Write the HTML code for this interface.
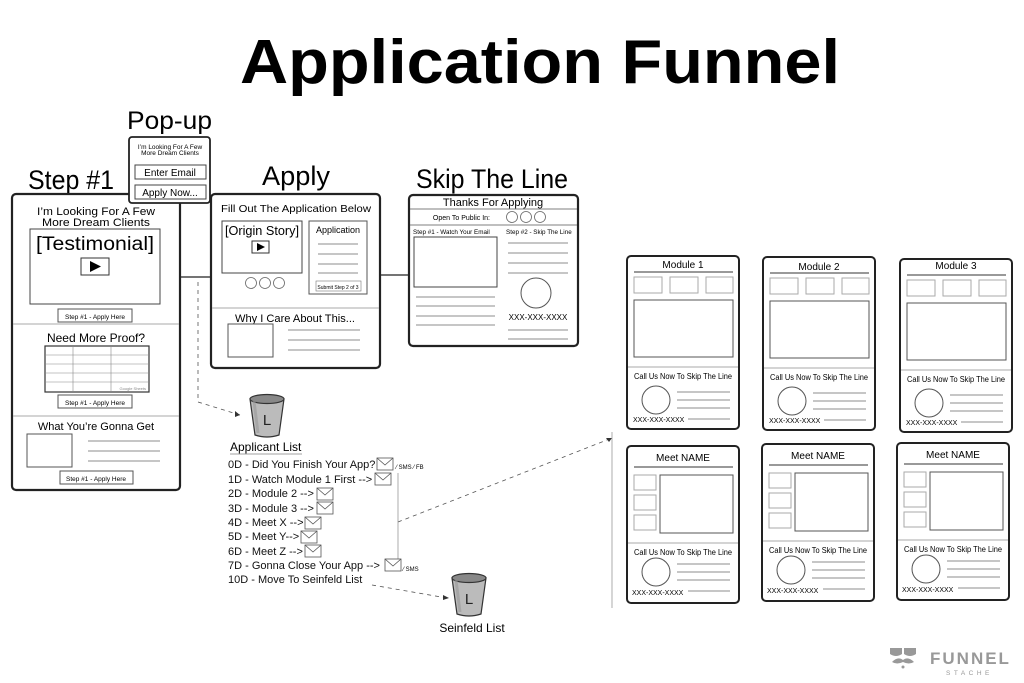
<!DOCTYPE html>
<html><head><meta charset="utf-8"><style>
html,body{margin:0;padding:0;background:#fff;}
svg{display:block;font-family:"Liberation Sans",sans-serif;}
</style></head><body>
<svg width="1024" height="683" viewBox="0 0 1024 683" xmlns="http://www.w3.org/2000/svg">
<defs>
<g id="env"><rect x="0" y="0" width="16" height="12" fill="#fff" stroke="#555" stroke-width="0.8"/><path d="M0 0 L8 7 L16 0" fill="none" stroke="#555" stroke-width="0.8"/></g>
<g id="bucket"><path d="M0 4 L5 40 Q17 44 29 40 L34 4 Z" fill="#bbb" stroke="#333" stroke-width="1.2"/><ellipse cx="17" cy="4" rx="17" ry="4.5" fill="#888" stroke="#333" stroke-width="1.2"/><path d="M4 6 L8 38" stroke="#999" stroke-width="3" opacity="0.6"/><text x="17" y="30" font-size="15" text-anchor="middle" fill="#222">L</text></g>
</defs>
<rect width="1024" height="683" fill="#fff"/>
<text x="540" y="83" font-size="62" font-weight="bold" text-anchor="middle" textLength="600" lengthAdjust="spacingAndGlyphs">Application Funnel</text>

<!-- Step #1 -->
<text x="28" y="189" font-size="27" textLength="86" lengthAdjust="spacingAndGlyphs">Step #1</text>
<rect x="12" y="194" width="168" height="296" rx="4" fill="#fff" stroke="#222" stroke-width="2.2"/>
<text x="96" y="215" font-size="11" text-anchor="middle" textLength="118" lengthAdjust="spacingAndGlyphs">I’m Looking For A Few</text>
<text x="96" y="226" font-size="11" text-anchor="middle" textLength="108" lengthAdjust="spacingAndGlyphs">More Dream Clients</text>
<rect x="30" y="229" width="130" height="75" fill="#fff" stroke="#444"/>
<text x="95" y="250" font-size="19" text-anchor="middle" textLength="118" lengthAdjust="spacingAndGlyphs">[Testimonial]</text>
<rect x="81" y="258" width="28" height="17" fill="#fff" stroke="#333"/><path d="M90 261 L101 266.5 L90 272 Z" fill="#000"/>
<rect x="58" y="309" width="74" height="13" fill="#fff" stroke="#555"/><text x="95" y="319" font-size="6.5" text-anchor="middle">Step #1 - Apply Here</text>
<line x1="13" y1="324" x2="179" y2="324" stroke="#aaa"/>
<text x="96" y="342" font-size="12" text-anchor="middle">Need More Proof?</text>
<rect x="45" y="346" width="104" height="46" fill="#fff" stroke="#333" stroke-width="1.2"/>
<g stroke="#888" stroke-width="0.6"><line x1="45" y1="355" x2="149" y2="355"/><line x1="45" y1="364" x2="149" y2="364"/><line x1="45" y1="373" x2="149" y2="373"/><line x1="45" y1="382" x2="149" y2="382"/><line x1="73" y1="346" x2="73" y2="392"/><line x1="111" y1="346" x2="111" y2="392"/></g>
<text x="146" y="390" font-size="4" text-anchor="end" fill="#888">Google Sheets</text>
<rect x="58" y="395" width="74" height="13" fill="#fff" stroke="#555"/><text x="95" y="405" font-size="6.5" text-anchor="middle">Step #1 - Apply Here</text>
<line x1="13" y1="416" x2="179" y2="416" stroke="#aaa"/>
<text x="96" y="430" font-size="11" text-anchor="middle">What You’re Gonna Get</text>
<rect x="27" y="434" width="45" height="33" fill="#fff" stroke="#555"/>
<g stroke="#666" stroke-width="0.7"><line x1="88" y1="441" x2="160" y2="441"/><line x1="88" y1="451" x2="160" y2="451"/><line x1="88" y1="461" x2="160" y2="461"/></g>
<rect x="60" y="471" width="73" height="13" fill="#fff" stroke="#555"/><text x="96" y="481" font-size="6.5" text-anchor="middle">Step #1 - Apply Here</text>

<!-- Pop-up -->
<text x="127" y="129" font-size="25" textLength="85" lengthAdjust="spacingAndGlyphs">Pop-up</text>
<rect x="129" y="137" width="81" height="66" rx="3" fill="#fff" stroke="#222" stroke-width="1.8"/>
<text x="170" y="149" font-size="6.5" text-anchor="middle">I’m Looking For A Few</text>
<text x="170" y="155" font-size="6.5" text-anchor="middle">More Dream Clients</text>
<rect x="135" y="165" width="71" height="14" fill="#fff" stroke="#444"/><text x="170" y="176" font-size="10" text-anchor="middle">Enter Email</text>
<rect x="135" y="185" width="71" height="14" fill="#fff" stroke="#444"/><text x="170" y="196" font-size="10" text-anchor="middle">Apply Now...</text>

<!-- connectors -->
<line x1="180" y1="277" x2="210" y2="277" stroke="#222" stroke-width="1.3"/>
<line x1="380" y1="275" x2="410" y2="275" stroke="#222" stroke-width="1.3"/>

<!-- Apply -->
<text x="262" y="185" font-size="27" textLength="68" lengthAdjust="spacingAndGlyphs">Apply</text>
<rect x="211" y="194" width="169" height="174" rx="4" fill="#fff" stroke="#222" stroke-width="2.2"/>
<text x="296" y="212" font-size="10.5" text-anchor="middle" textLength="150" lengthAdjust="spacingAndGlyphs">Fill Out The Application Below</text>
<rect x="222" y="221" width="80" height="52" fill="#fff" stroke="#444"/>
<text x="262" y="235" font-size="13" text-anchor="middle" textLength="74" lengthAdjust="spacingAndGlyphs">[Origin Story]</text>
<rect x="252" y="241" width="17" height="12" fill="#fff" stroke="#333"/><path d="M257 243 L265 247 L257 251 Z" fill="#000"/>
<g fill="#fff" stroke="#666" stroke-width="0.8"><circle cx="251" cy="283" r="5.5"/><circle cx="265" cy="283" r="5.5"/><circle cx="279" cy="283" r="5.5"/></g>
<rect x="309" y="221" width="58" height="73" fill="#fff" stroke="#555"/>
<text x="338" y="233" font-size="9" text-anchor="middle">Application</text>
<g stroke="#666" stroke-width="0.7"><line x1="318" y1="244" x2="358" y2="244"/><line x1="318" y1="254" x2="358" y2="254"/><line x1="318" y1="264" x2="358" y2="264"/><line x1="318" y1="273" x2="358" y2="273"/></g>
<rect x="316" y="281" width="45" height="10" fill="#fff" stroke="#777" stroke-width="0.6"/><text x="338" y="289" font-size="5" text-anchor="middle">Submit Step 2 of 3</text>
<line x1="212" y1="308" x2="379" y2="308" stroke="#aaa"/>
<text x="295" y="322" font-size="11" text-anchor="middle" textLength="120" lengthAdjust="spacingAndGlyphs">Why I Care About This...</text>
<rect x="228" y="324" width="45" height="33" fill="#fff" stroke="#555"/>
<g stroke="#666" stroke-width="0.7"><line x1="288" y1="330" x2="360" y2="330"/><line x1="288" y1="340" x2="360" y2="340"/><line x1="288" y1="350" x2="360" y2="350"/></g>

<!-- Skip The Line -->
<text x="416" y="188" font-size="27" textLength="152" lengthAdjust="spacingAndGlyphs">Skip The Line</text>
<rect x="409" y="195" width="169" height="151" rx="4" fill="#fff" stroke="#222" stroke-width="2.2"/>
<text x="493" y="206" font-size="11" text-anchor="middle">Thanks For Applying</text>
<line x1="410" y1="209" x2="577" y2="209" stroke="#555" stroke-width="0.8"/>
<text x="490" y="220" font-size="7" text-anchor="end">Open To Public In:</text>
<g fill="#fff" stroke="#666" stroke-width="0.8"><circle cx="512" cy="217" r="5.5"/><circle cx="526" cy="217" r="5.5"/><circle cx="540" cy="217" r="5.5"/></g>
<line x1="410" y1="225" x2="577" y2="225" stroke="#555" stroke-width="0.8"/>
<text x="413" y="234" font-size="6.3">Step #1 - Watch Your Email</text>
<text x="506" y="234" font-size="6.3">Step #2 - Skip The Line</text>
<rect x="414" y="237" width="83" height="50" fill="#fff" stroke="#444"/>
<g stroke="#666" stroke-width="0.7"><line x1="508" y1="243" x2="568" y2="243"/><line x1="508" y1="253" x2="568" y2="253"/><line x1="508" y1="263" x2="568" y2="263"/><line x1="508" y1="273" x2="568" y2="273"/>
<line x1="416" y1="297" x2="495" y2="297"/><line x1="416" y1="306" x2="495" y2="306"/><line x1="416" y1="316" x2="495" y2="316"/><line x1="416" y1="325" x2="495" y2="325"/>
<line x1="508" y1="330" x2="568" y2="330"/><line x1="508" y1="339" x2="568" y2="339"/></g>
<circle cx="536" cy="293" r="15" fill="#fff" stroke="#555"/>
<text x="538" y="320" font-size="8" text-anchor="middle">XXX-XXX-XXXX</text>

<!-- dashed connectors -->
<g fill="none" stroke="#555" stroke-width="0.8" stroke-dasharray="4,4">
<path d="M198 282 L198 402 L240 415"/>
<path d="M398 522 L612 438"/>
<path d="M372 585 L447 598"/>
</g>
<path d="M240 415 l-5 -4 l0 6 z" fill="#333"/>
<path d="M612 438 l-6 0 l3 4 z" fill="#333"/>
<path d="M449 598 l-6 -3 l0 5 z" fill="#333"/>
<line x1="398" y1="473" x2="398" y2="560" stroke="#888" stroke-width="0.7"/>
<line x1="612" y1="432" x2="612" y2="608" stroke="#888" stroke-width="0.7"/>

<!-- Applicant list -->
<use href="#bucket" x="250" y="395"/>
<text x="230" y="451" font-size="12">Applicant List</text>
<line x1="230" y1="454" x2="302" y2="454" stroke="#444" stroke-width="0.6"/>
<g font-size="11" fill="#111">
<text x="228" y="468">0D - Did You Finish Your App?</text>
<text x="228" y="483">1D - Watch Module 1 First --&gt;</text>
<text x="228" y="497">2D - Module 2 --&gt;</text>
<text x="228" y="512">3D - Module 3 --&gt;</text>
<text x="228" y="526">4D - Meet X --&gt;</text>
<text x="228" y="540">5D - Meet Y--&gt;</text>
<text x="228" y="555">6D - Meet Z --&gt;</text>
<text x="228" y="569">7D - Gonna Close Your App --&gt;</text>
<text x="228" y="583">10D - Move To Seinfeld List</text>
</g>
<use href="#env" x="377" y="458"/>
<use href="#env" x="375" y="473"/>
<use href="#env" x="317" y="488"/>
<use href="#env" x="317" y="502"/>
<use href="#env" x="305" y="517"/>
<use href="#env" x="301" y="531"/>
<use href="#env" x="305" y="545"/>
<use href="#env" x="385" y="559"/>
<text x="396" y="469" font-size="6">⁄ SMS ⁄ FB</text>
<text x="403" y="571" font-size="6">⁄ SMS</text>
<use href="#bucket" x="452" y="574"/>
<text x="472" y="632" font-size="12" text-anchor="middle">Seinfeld List</text>

<!-- Module cards -->
<g id="mod">
<rect x="627" y="256" width="112" height="173" rx="4" fill="#fff" stroke="#222" stroke-width="2"/>
<line x1="634" y1="272" x2="733" y2="272" stroke="#333" stroke-width="1"/>
<g fill="#fff" stroke="#aaa"><rect x="634" y="277" width="28" height="16"/><rect x="670" y="277" width="28" height="16"/><rect x="706" y="277" width="27" height="16"/></g>
<rect x="634" y="300" width="99" height="57" fill="#fff" stroke="#555"/>
<line x1="628" y1="367" x2="738" y2="367" stroke="#aaa"/>
<text x="683" y="379" font-size="8" text-anchor="middle" textLength="98" lengthAdjust="spacingAndGlyphs">Call Us Now To Skip The Line</text>
<circle cx="656" cy="400" r="14" fill="#fff" stroke="#555"/>
<g stroke="#666" stroke-width="0.7"><line x1="677" y1="392" x2="730" y2="392"/><line x1="677" y1="400" x2="730" y2="400"/><line x1="677" y1="408" x2="730" y2="408"/><line x1="688" y1="419" x2="730" y2="419"/></g>
<text x="633" y="422" font-size="7">XXX-XXX-XXXX</text>
</g>
<text x="683" y="268" font-size="10" text-anchor="middle">Module 1</text>
<use href="#mod" x="136" y="1"/>
<text x="819" y="270" font-size="10" text-anchor="middle">Module 2</text>
<use href="#mod" x="273" y="3"/>
<text x="956" y="269" font-size="10" text-anchor="middle">Module 3</text>

<g id="meet">
<rect x="627" y="446" width="112" height="157" rx="4" fill="#fff" stroke="#222" stroke-width="2"/>
<line x1="634" y1="467" x2="733" y2="467" stroke="#333" stroke-width="1"/>
<g fill="#fff" stroke="#aaa"><rect x="634" y="475" width="22" height="15"/><rect x="634" y="495" width="22" height="15"/><rect x="634" y="515" width="22" height="15"/></g>
<rect x="660" y="475" width="73" height="58" fill="#fff" stroke="#555"/>
<line x1="628" y1="543" x2="738" y2="543" stroke="#aaa"/>
<text x="683" y="555" font-size="8" text-anchor="middle" textLength="98" lengthAdjust="spacingAndGlyphs">Call Us Now To Skip The Line</text>
<circle cx="656" cy="572" r="14" fill="#fff" stroke="#555"/>
<g stroke="#666" stroke-width="0.7"><line x1="677" y1="564" x2="730" y2="564"/><line x1="677" y1="572" x2="730" y2="572"/><line x1="677" y1="580" x2="730" y2="580"/><line x1="688" y1="591" x2="730" y2="591"/></g>
<text x="632" y="595" font-size="7">XXX-XXX-XXXX</text>
<text x="683" y="461" font-size="10" text-anchor="middle">Meet NAME</text>
</g>
<use href="#meet" x="135" y="-2"/>
<use href="#meet" x="270" y="-3"/>

<!-- logo -->
<g fill="#999">
<path d="M890 648 h12 v6 q-6 4 -12 0 z M904 648 h12 v6 q-6 4 -12 0 z"/>
<path d="M892 662 q6 -6 11 -2 q5 -4 11 2 q-5 3 -11 0 q-6 3 -11 0 z"/>
<circle cx="903" cy="667" r="1.5"/>
<text x="930" y="664" font-size="17" font-weight="bold" letter-spacing="2">FUNNEL</text>
<text x="946" y="675" font-size="6.5" letter-spacing="3.5">STACHE</text>
</g>
</svg>
</body></html>
